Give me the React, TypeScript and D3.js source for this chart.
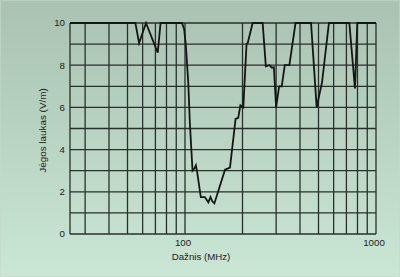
import React from "react";
import * as d3 from "d3";

const freqs = [25, 55, 57.5, 62.5, 70.5, 72, 74.5, 96.5, 99, 101, 104, 106, 109.5, 112, 114, 115.5, 121, 127, 132.5, 136, 139, 142.5, 162, 172, 184, 190, 195, 202, 210, 213, 226, 255, 265, 277, 285, 292, 300, 311, 321, 333, 352, 379, 457, 489, 522, 567, 725, 776, 798, 1000];
const fieldValues = [10, 10, 9.05, 10, 8.8, 8.6, 10, 10, 9.7, 8.95, 7.2, 5.3, 3.0, 3.1, 3.25, 3.0, 1.75, 1.75, 1.5, 1.75, 1.55, 1.45, 3.05, 3.15, 5.45, 5.5, 6.1, 6.0, 9.0, 9.05, 10, 10, 7.95, 8.0, 7.88, 7.9, 6.0, 7.0, 7.0, 8.0, 8.0, 10, 10, 6.0, 7.2, 10, 10, 6.9, 10, 10];
const xGridValues = [30, 40, 50, 60, 70, 80, 90, 100, 200, 300, 400, 500, 600, 700, 800, 900, 1000];
const xTickLabels = [100, 1000];
const yGridValues = [0, 1, 2, 3, 4, 5, 6, 7, 8, 9, 10];
const yTickLabels = [0, 2, 4, 6, 8, 10];
const xTitle = "Dažnis (MHz)";
const yTitle = "Jėgos laukas (V/m)";

export default function App() {
  const W = 400, H = 277;
  const left = 70, right = 376, top = 23, bottom = 234;
  const x = d3.scaleLog().domain([25, 1000]).range([left, right]);
  const y = d3.scaleLinear().domain([0, 10]).range([bottom, top]);
  const data = freqs.map((f, i) => [f, fieldValues[i]] as [number, number]);
  const line = d3.line<[number, number]>().x(d => x(d[0])).y(d => y(d[1]));
  const font = "Liberation Sans, Arial, Helvetica, sans-serif";
  const gridColor = "#2b2f2c";
  return (
    <svg width={W} height={H} style={{ position: "fixed", left: 0, top: 0 }} fontFamily={font}>
      <defs>
        <linearGradient id="bg" x1="0" y1="0" x2="0" y2="1">
          <stop offset="0" stopColor="#a9c2b1" />
          <stop offset="1" stopColor="#cae6d4" />
        </linearGradient>
      </defs>
      <rect x={0} y={0} width={W} height={H} fill="url(#bg)" />
      <rect x={0.5} y={0.5} width={W - 1} height={H - 1} fill="none" stroke="#c4d9cb" strokeWidth={1} opacity={0.6} />
      {yGridValues.map(v => (
        <line key={"h" + v} x1={left} x2={right} y1={y(v)} y2={y(v)} stroke={gridColor} strokeWidth={1.3} />
      ))}
      <line x1={left} x2={left} y1={top} y2={bottom} stroke={gridColor} strokeWidth={1.3} />
      {xGridValues.map(v => (
        <line key={"v" + v} x1={x(v)} x2={x(v)} y1={top} y2={bottom} stroke={gridColor} strokeWidth={1.3} />
      ))}
      <path d={line(data) || ""} fill="none" stroke="#151515" strokeWidth={1.8} strokeLinejoin="miter" />
      {yTickLabels.map(v => (
        <text key={"yl" + v} x={left - 5} y={y(v)} dy="0.35em" textAnchor="end" fontSize={9.7} fill="#222">{v}</text>
      ))}
      {xTickLabels.map(v => (
        <text key={"xl" + v} x={x(v) - 2} y={bottom + 11.5} textAnchor="middle" fontSize={9.7} fill="#222">{v}</text>
      ))}
      <text x={201} y={260} textAnchor="middle" fontSize={9.7} fill="#222">{xTitle}</text>
      <text transform={`translate(45.5,${(top + bottom) / 2 + 2}) rotate(-90)`} textAnchor="middle" fontSize={9.9} fill="#222">{yTitle}</text>
    </svg>
  );
}
